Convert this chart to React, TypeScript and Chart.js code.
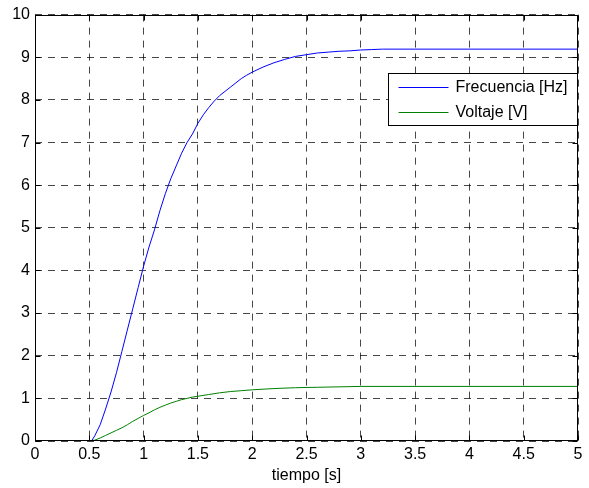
import React, { useEffect, useRef } from "react";
import { Chart, registerables } from "chart.js";

Chart.register(...registerables);

// tiempo [s]
const timeFreq = [0, 0.5, 0.52, 0.55, 0.6, 0.65, 0.7, 0.75, 0.8, 0.85, 0.9, 0.95, 1.0, 1.05, 1.1, 1.15, 1.2, 1.25, 1.3, 1.35, 1.4, 1.45, 1.5, 1.55, 1.6, 1.65, 1.7, 1.75, 1.8, 1.85, 1.9, 1.95, 2.0, 2.1, 2.2, 2.3, 2.4, 2.5, 2.6, 2.7, 2.8, 2.9, 3.0, 3.1, 3.2, 5.0];
const frecuenciaHz = [0, 0, 0, 0.12, 0.38, 0.75, 1.15, 1.6, 2.1, 2.6, 3.1, 3.6, 4.1, 4.55, 4.95, 5.4, 5.8, 6.15, 6.45, 6.75, 7.0, 7.2, 7.45, 7.65, 7.82, 7.97, 8.1, 8.2, 8.3, 8.4, 8.5, 8.58, 8.65, 8.77, 8.87, 8.95, 9.02, 9.06, 9.1, 9.12, 9.14, 9.15, 9.17, 9.18, 9.19, 9.19];

const timeVolt = [0, 0.5, 0.55, 0.6, 0.65, 0.7, 0.75, 0.8, 0.85, 0.9, 0.95, 1.0, 1.05, 1.1, 1.15, 1.2, 1.25, 1.3, 1.35, 1.4, 1.45, 1.5, 1.6, 1.7, 1.8, 1.9, 2.0, 2.2, 2.4, 2.6, 2.8, 3.0, 5.0];
const voltajeV = [0, 0, 0.02, 0.07, 0.13, 0.19, 0.25, 0.31, 0.38, 0.46, 0.53, 0.6, 0.66, 0.73, 0.79, 0.84, 0.89, 0.93, 0.97, 1.0, 1.03, 1.05, 1.09, 1.13, 1.16, 1.18, 1.2, 1.23, 1.25, 1.26, 1.27, 1.28, 1.28];

const seriesLabels = ["Frecuencia [Hz]", "Voltaje [V]"];
const xTitle = "tiempo [s]";
const xMin = 0, xMax = 5, xStep = 0.5;
const yMin = 0, yMax = 10, yStep = 1;

const FONT = "'Liberation Sans', Arial, Helvetica, sans-serif";
const FONT_SIZE = 16;

const boxPlugin = {
  id: "matlabBox",
  afterDatasetsDraw(chart: any) {
    const { ctx, chartArea: a, scales } = chart;
    ctx.save();
    ctx.strokeStyle = "#000";
    ctx.lineWidth = 1;
    ctx.setLineDash([]);
    const L = Math.round(a.left) + 0.5, R = Math.round(a.right) - 0.5;
    const T = Math.round(a.top) + 0.5, B = Math.round(a.bottom) - 0.5;
    ctx.beginPath();
    const tl = 5;
    scales.x.ticks.forEach((t: any) => {
      const px = Math.round(scales.x.getPixelForValue(t.value)) + 0.5;
      ctx.moveTo(px, B); ctx.lineTo(px, B - tl);
      ctx.moveTo(px, T); ctx.lineTo(px, T + tl);
    });
    scales.y.ticks.forEach((t: any) => {
      const py = Math.round(scales.y.getPixelForValue(t.value)) + 0.5;
      ctx.moveTo(L, py); ctx.lineTo(L + tl, py);
      ctx.moveTo(R, py); ctx.lineTo(R - tl, py);
    });
    ctx.stroke();
    ctx.strokeRect(L, T, R - L, B - T);

    // legend box
    const bw = 189, bh = 52;
    const bx = Math.round(a.right) - 1 - bw + 0.5;
    const by = Math.round(a.top) + 58 + 0.5;
    ctx.fillStyle = "#fff";
    ctx.fillRect(bx, by, bw, bh);
    ctx.strokeRect(bx, by, bw, bh);
    ctx.font = `${FONT_SIZE}px ${FONT}`;
    ctx.textBaseline = "middle";
    ctx.textAlign = "left";
    chart.data.datasets.forEach((ds: any, i: number) => {
      const y = Math.round(by + 13 + i * 25.5) + 0.5;
      ctx.strokeStyle = ds.borderColor;
      ctx.beginPath();
      ctx.moveTo(bx + 10, y);
      ctx.lineTo(bx + 60, y);
      ctx.stroke();
      ctx.fillStyle = "#000";
      ctx.fillText(ds.label, bx + 67, y);
    });
    ctx.restore();
  },
};

export default function App() {
  const ref = useRef<HTMLCanvasElement | null>(null);
  useEffect(() => {
    document.body.style.margin = "0";
    document.body.style.background = "#fff";
    const canvas = ref.current!;
    const chart = new Chart(canvas, {
      type: "line",
      data: {
        datasets: [
          {
            label: seriesLabels[0],
            data: timeFreq.map((t, i) => ({ x: t, y: frecuenciaHz[i] })),
            borderColor: "#0000ff",
            borderWidth: 1,
            pointRadius: 0,
            tension: 0,
            fill: false,
          },
          {
            label: seriesLabels[1],
            data: timeVolt.map((t, i) => ({ x: t, y: voltajeV[i] })),
            borderColor: "#008000",
            borderWidth: 1,
            pointRadius: 0,
            tension: 0,
            fill: false,
          },
        ],
      },
      plugins: [boxPlugin],
      options: {
        responsive: false,
        animation: false,
        devicePixelRatio: 1,
        layout: { padding: { top: 12, right: 11, left: 0, bottom: 0 } },
        plugins: { legend: { display: false }, tooltip: { enabled: false } },
        scales: {
          x: {
            type: "linear",
            min: xMin,
            max: xMax,
            ticks: {
              stepSize: xStep,
              padding: 4,
              color: "#000",
              font: { family: FONT, size: FONT_SIZE },
              maxRotation: 0,
              autoSkip: false,
              callback: (v: any) => String(Math.round(Number(v) * 10) / 10),
            },
            grid: { color: "rgba(0,0,0,0.72)", lineWidth: 1, drawTicks: false },
            border: { display: false, dash: [7, 6] },
            title: {
              display: true,
              text: xTitle,
              color: "#000",
              font: { family: FONT, size: FONT_SIZE },
              padding: { top: 0, bottom: 3 },
            },
            afterFit: (s: any) => { s.height = 47; },
          },
          y: {
            type: "linear",
            min: yMin,
            max: yMax,
            ticks: {
              stepSize: yStep,
              padding: 5,
              color: "#000",
              font: { family: FONT, size: FONT_SIZE },
              autoSkip: false,
            },
            grid: { color: "rgba(0,0,0,0.72)", lineWidth: 1, drawTicks: false },
            border: { display: false, dash: [7, 6] },
            afterFit: (s: any) => { s.width = 35; },
          },
        },
      },
    });
    return () => chart.destroy();
  }, []);
  return (
    <div style={{ width: 589, height: 488, background: "#fff" }}>
      <canvas ref={ref} width={589} height={488} style={{ display: "block" }} />
    </div>
  );
}
